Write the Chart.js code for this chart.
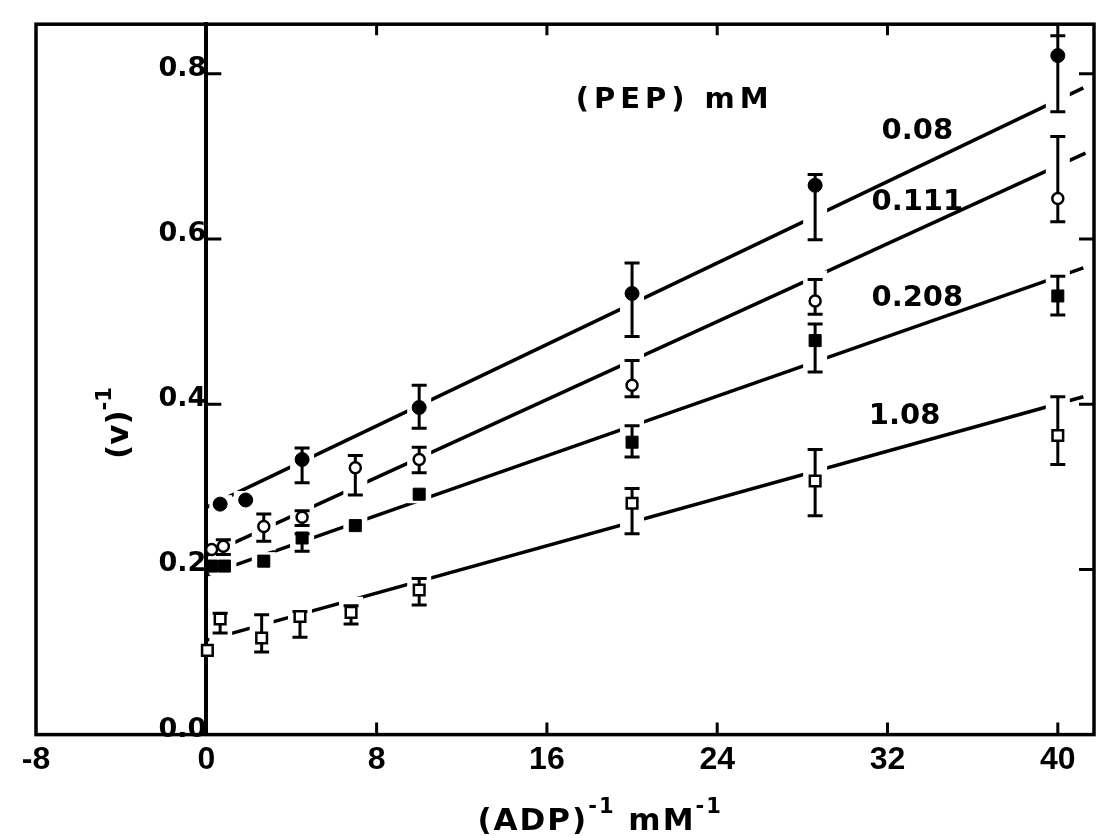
<!DOCTYPE html>
<html>
<head>
<meta charset="utf-8">
<script src="https://cdn.jsdelivr.net/npm/chart.js@4.4.1/dist/chart.umd.min.js"></script>
<style>
  html, body { margin: 0; padding: 0; background: #fff; }
</style>
</head>
<body>
<canvas id="plot-adp" width="1104" height="836"></canvas>
<script>
// (PEP) mM levels, one line each
const pepLevels = ['0.08', '0.111', '0.208', '1.08'];

// (ADP)^-1 mM^-1 vs (v)^-1
const x008 = [0.65, 1.85, 4.5, 10, 20, 28.6, 40];
const y008 = [0.279, 0.284, 0.333, 0.396, 0.534, 0.665, 0.822];
const lo008 = [null, null, 0.305, 0.371, 0.482, 0.599, 0.754];
const hi008 = [null, null, 0.347, 0.423, 0.571, 0.678, 0.846];

const x0111 = [0.25, 0.8, 2.7, 4.5, 7.0, 10, 20, 28.6, 40];
const y0111 = [0.224, 0.228, 0.252, 0.263, 0.323, 0.333, 0.423, 0.525, 0.649];
const lo0111 = [null, 0.218, 0.234, 0.253, 0.290, 0.317, 0.409, 0.509, 0.621];
const hi0111 = [null, 0.236, 0.267, 0.271, 0.338, 0.348, 0.453, 0.551, 0.724];

const x0208 = [0.25, 0.85, 2.7, 4.5, 7.0, 10, 20, 28.6, 40];
const y0208 = [0.204, 0.204, 0.210, 0.238, 0.253, 0.291, 0.354, 0.477, 0.531];
const lo0208 = [null, null, null, 0.222, null, null, 0.336, 0.439, 0.508];
const hi0208 = [null, null, null, 0.243, null, null, 0.374, 0.497, 0.555];

const x108 = [0.05, 0.65, 2.6, 4.4, 6.8, 10, 20, 28.6, 40];
const y108 = [0.102, 0.140, 0.117, 0.143, 0.148, 0.175, 0.280, 0.307, 0.362];
const lo108 = [null, 0.123, 0.100, 0.118, 0.134, 0.157, 0.243, 0.265, 0.327];
const hi108 = [null, 0.147, 0.145, 0.149, 0.156, 0.189, 0.298, 0.345, 0.409];

// fitted lines: end points
const fitX = [[0, 41.2], [0, 41.3], [0, 41.2], [0, 41.2]];
const fitY = [[0.275, 0.783], [0.217, 0.704], [0.193, 0.565], [0.114, 0.409]];

const xTicks = [-8, 0, 8, 16, 24, 32, 40];
const yTicks = [0, 0.2, 0.4, 0.6, 0.8];
const yTickLabels = ['0.0', '0.2', '0.4', '0.6', '0.8'];

const series = [
    { x: x008, y: y008, lo: lo008, hi: hi008, style: 'circle', fill: '#000', r: 7 },
    { x: x0111, y: y0111, lo: lo0111, hi: hi0111, style: 'circle', fill: '#fff', r: 5.5 },
    { x: x0208, y: y0208, lo: lo0208, hi: hi0208, style: 'rect', fill: '#000', r: 8.5 },
    { x: x108, y: y108, lo: lo108, hi: hi108, style: 'rect', fill: '#fff', r: 7.5 }
];

// where the level labels sit, in axis units
const levelLabelAt = [[33.4, 0.730], [33.4, 0.644], [33.4, 0.528], [32.8, 0.385]];

const BOLD = 'bold 29px "DejaVu Sans"';
const FIRST_FIT = series.length; // index of first fitted line dataset

function toPoints(xs, ys) {
    return xs.map((v, i) => ({ x: v, y: ys[i] }));
}

function supText(ctx, parts, cx, cy, big, small) {
    // parts: [text, isSuperscript]
    let total = 0;
    parts.forEach(p => {
        ctx.font = p[1] ? small : big;
        total += ctx.measureText(p[0]).width;
    });
    let x = cx - total / 2;
    ctx.textAlign = 'left';
    ctx.textBaseline = 'alphabetic';
    parts.forEach(p => {
        ctx.font = p[1] ? small : big;
        ctx.fillText(p[0], x, p[1] ? cy - 17 : cy);
        x += ctx.measureText(p[0]).width;
    });
}

const decor = {
    id: 'decor',
    afterDatasetDraw(chart, args) {
        // runs once all fitted lines are down, before the markers
        if (args.index !== FIRST_FIT)
            return;
        const { ctx, chartArea: ca, scales: { x, y } } = chart;
        const x0 = x.getPixelForValue(0);
        ctx.save();

        // break the lines where they meet a point or its bar
        ctx.beginPath();
        ctx.rect(x0 + 3, ca.top, ca.right - x0 - 3, ca.bottom - ca.top);
        ctx.clip();
        ctx.fillStyle = '#fff';
        series.forEach(s => {
            s.x.forEach((v, i) => {
                const px = x.getPixelForValue(v);
                const top = y.getPixelForValue(s.hi[i] == null ? s.y[i] : Math.max(s.hi[i], s.y[i]));
                const bot = y.getPixelForValue(s.lo[i] == null ? s.y[i] : Math.min(s.lo[i], s.y[i]));
                ctx.fillRect(px - 12, top - 9, 24, bot - top + 18);
            });
        });

        ctx.strokeStyle = '#000';
        ctx.lineWidth = 3;
        series.forEach(s => {
            s.x.forEach((v, i) => {
                if (s.lo[i] == null)
                    return;
                const px = x.getPixelForValue(v);
                const a = y.getPixelForValue(s.lo[i]);
                const b = y.getPixelForValue(s.hi[i]);
                ctx.beginPath();
                ctx.moveTo(px, a); ctx.lineTo(px, b);
                ctx.moveTo(px - 7.5, a); ctx.lineTo(px + 7.5, a);
                ctx.moveTo(px - 7.5, b); ctx.lineTo(px + 7.5, b);
                ctx.stroke();
            });
        });
        ctx.restore();
    },
    afterDraw(chart) {
        const { ctx, chartArea: ca, scales: { x, y } } = chart;
        ctx.save();
        ctx.strokeStyle = '#000';
        ctx.fillStyle = '#000';

        // box
        ctx.lineWidth = 3.5;
        ctx.strokeRect(ca.left, ca.top, ca.right - ca.left, ca.bottom - ca.top);

        // inward ticks
        ctx.lineWidth = 3;
        ctx.beginPath();
        xTicks.forEach(v => {
            if (v <= 0)
                return;
            const px = x.getPixelForValue(v);
            ctx.moveTo(px, ca.bottom); ctx.lineTo(px, ca.bottom - 12);
            ctx.moveTo(px, ca.top); ctx.lineTo(px, ca.top + 11);
        });
        const x0 = x.getPixelForValue(0);
        yTicks.forEach(v => {
            if (v <= 0)
                return;
            const py = y.getPixelForValue(v);
            ctx.moveTo(x0, py); ctx.lineTo(x0 + 15, py);
            ctx.moveTo(ca.right, py); ctx.lineTo(ca.right - 15, py);
        });
        ctx.stroke();

        // level labels
        ctx.font = BOLD;
        ctx.textAlign = 'center';
        ctx.textBaseline = 'middle';
        pepLevels.forEach((t, i) => {
            ctx.fillText(t, x.getPixelForValue(levelLabelAt[i][0]), y.getPixelForValue(levelLabelAt[i][1]));
        });
        ctx.letterSpacing = '5px';
        ctx.fillText('(PEP) mM', x.getPixelForValue(22.0), y.getPixelForValue(0.768));
        ctx.letterSpacing = '2px';

        // axis titles
        supText(ctx, [['(ADP)', false], ['-1', true], [' mM', false], ['-1', true]],
            x.getPixelForValue(18.5), 830, 'bold 31px "DejaVu Sans"', 'bold 21px "DejaVu Sans"');

        ctx.translate(128, 458);
        ctx.rotate(-Math.PI / 2);
        ctx.letterSpacing = '0px';
        supText(ctx, [['(v)', false], ['-1', true]], 35, 0, 'bold 31px "DejaVu Sans"', 'bold 21px "DejaVu Sans"');
        ctx.restore();
    }
};

const datasets = [];
series.forEach((s, i) => {
    datasets.push({
        label: pepLevels[i],
        data: toPoints(s.x, s.y),
        showLine: false,
        pointStyle: s.style,
        pointRadius: s.r,
        pointBackgroundColor: s.fill,
        pointBorderColor: '#000',
        pointBorderWidth: s.fill === '#fff' ? 2.5 : 1,
        order: 0
    });
});
fitX.forEach((xs, i) => {
    datasets.push({
        label: pepLevels[i] + ' fit',
        data: toPoints(xs, fitY[i]),
        showLine: true,
        borderColor: '#000',
        borderWidth: 3.5,
        pointRadius: 0,
        order: 1
    });
});

new Chart('plot-adp', {
    type: 'scatter',
    data: { datasets: datasets },
    options: {
        responsive: false,
        animation: false,
        layout: { padding: { left: 36, right: 9, top: 12, bottom: 51 } },
        plugins: { legend: { display: false }, tooltip: { enabled: false } },
        scales: {
            x: {
                type: 'linear',
                position: 'bottom',
                min: -8,
                max: 41.7,
                afterBuildTicks: axis => { axis.ticks = xTicks.map(v => ({ value: v })); },
                grid: { display: false, drawTicks: false },
                border: { display: false },
                ticks: {
                    padding: 6,
                    color: '#000',
                    maxRotation: 0,
                    font: { family: '"Liberation Sans", Arial, sans-serif', weight: 'bold', size: 32 }
                }
            },
            y: {
                type: 'linear',
                position: { x: 0 },
                min: 0,
                max: 0.86,
                afterBuildTicks: axis => { axis.ticks = yTicks.map(v => ({ value: v })); },
                grid: { display: false, drawTicks: false },
                border: { display: true, color: '#000', width: 4 },
                ticks: {
                    padding: 8,
                    labelOffset: -5,
                    color: '#000',
                    font: { family: '"DejaVu Sans"', weight: 'bold', size: 27 },
                    callback: (v, i) => yTickLabels[i]
                }
            }
        }
    },
    plugins: [decor]
});
</script>
</body>
</html>
